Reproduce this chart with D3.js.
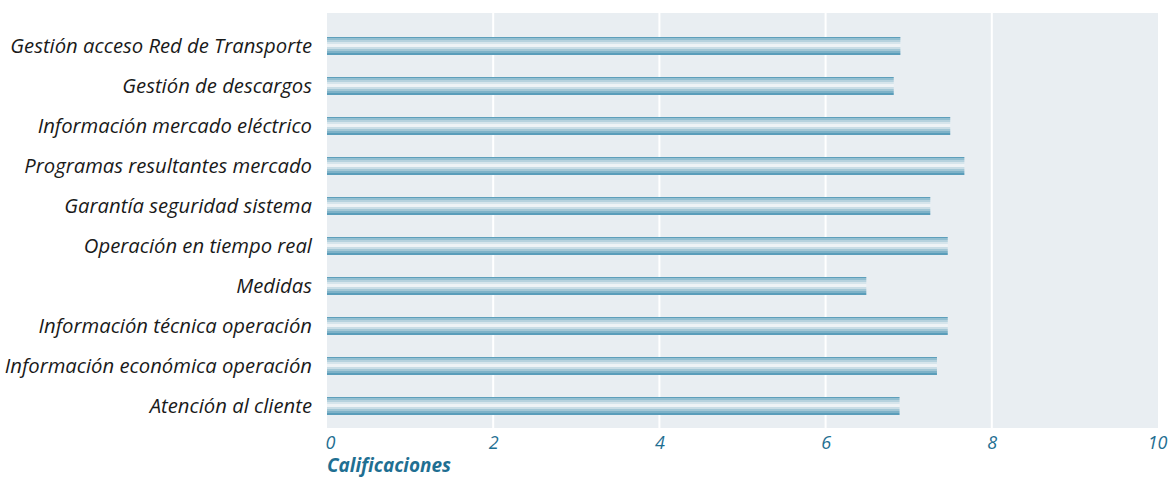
<!DOCTYPE html>
<html><head><meta charset="utf-8">
<script src="https://cdn.jsdelivr.net/npm/d3@7"></script>
<style>
body{margin:0;background:#fff;}
text{font-family:"Open Sans","Lato",sans-serif;}
</style></head>
<body><svg id="c" width="1175" height="478"></svg>
<script>
const categories = ["Gestión acceso Red de Transporte","Gestión de descargos","Información mercado eléctrico","Programas resultantes mercado","Garantía seguridad sistema","Operación en tiempo real","Medidas","Información técnica operación","Información económica operación","Atención al cliente"];
const values = [6.90, 6.82, 7.50, 7.67, 7.26, 7.47, 6.49, 7.47, 7.34, 6.89];
const ticks = [0, 2, 4, 6, 8, 10];
const axisTitle = "Calificaciones";

const svg = d3.select("#c");
const L = 327, R = 1158, T = 13, B = 428;
const x = d3.scaleLinear().domain([0, 10]).range([L, R]);
const y = d3.scaleBand().domain(categories).range([26, 426]).paddingInner(0.55).paddingOuter(0.275);

const defs = svg.append("defs");
const g = defs.append("linearGradient").attr("id","bar").attr("x1",0).attr("y1",0).attr("x2",0).attr("y2",1);
const stops = [["#5e9fbb",0],["#5e9fbb",0.07],["#93bfd1",0.07],["#93bfd1",0.18],["#b6d2de",0.18],["#b6d2de",0.29],["#d6e5ec",0.29],["#d6e5ec",0.4],["#eef3f6",0.4],["#eef3f6",0.56],["#c9dde6",0.56],["#c9dde6",0.67],["#a3c7d6",0.67],["#a3c7d6",0.78],["#7eb2c8",0.78],["#7eb2c8",0.88],["#5a9dba",0.88],["#5a9dba",1]];
stops.forEach(([c,o])=>g.append("stop").attr("offset",o).attr("stop-color",c));

svg.append("rect").attr("x",L).attr("y",T).attr("width",R-L).attr("height",B-T).attr("fill","#e9eef2");

svg.append("g").selectAll("line").data(ticks.slice(1,-1)).join("line")
  .attr("x1",d=>x(d)).attr("x2",d=>x(d)).attr("y1",T).attr("y2",B)
  .attr("stroke","#ffffff").attr("stroke-width",2);

svg.append("g").selectAll("rect").data(values).join("rect")
  .attr("x",x(0)).attr("y",(d,i)=>y(categories[i]))
  .attr("width",d=>x(d)-x(0)).attr("height",y.bandwidth())
  .attr("fill","url(#bar)");

const labels = svg.append("g").selectAll("text").data(categories).join("text")
  .attr("x",312).attr("y",d=>y(d)+y.bandwidth()/2)
  .attr("dy","0.36em").attr("text-anchor","end")
  .attr("font-size",18).attr("font-style","italic").attr("fill","#1a1a1a")
  .text(d=>d);
const w0 = labels.nodes()[0].getComputedTextLength();
labels.attr("font-size", 18*302/w0);

const xAxis = d3.axisBottom(x).tickValues(ticks).tickSize(0).tickPadding(0);
const ax = svg.append("g").attr("transform",`translate(0,${B})`).call(xAxis);
ax.select(".domain").remove();
ax.selectAll("text").attr("y",21).attr("dy",0)
  .style("font-size","18px").style("font-style","italic")
  .attr("fill","#1f6f92")
  .attr("text-anchor",d=>d===10?"end":(d===0?"start":"middle"))
  .attr("dx",d=>d===10?"9":(d===0?"-2":"0"));

const t = svg.append("text").attr("x",L).attr("y",472).attr("font-size",17).attr("font-weight","bold")
  .attr("font-style","italic").attr("fill","#1f6f92").text(axisTitle);
const tw = t.node().getComputedTextLength();
t.attr("font-size", 17*124/tw);
</script></body></html>
